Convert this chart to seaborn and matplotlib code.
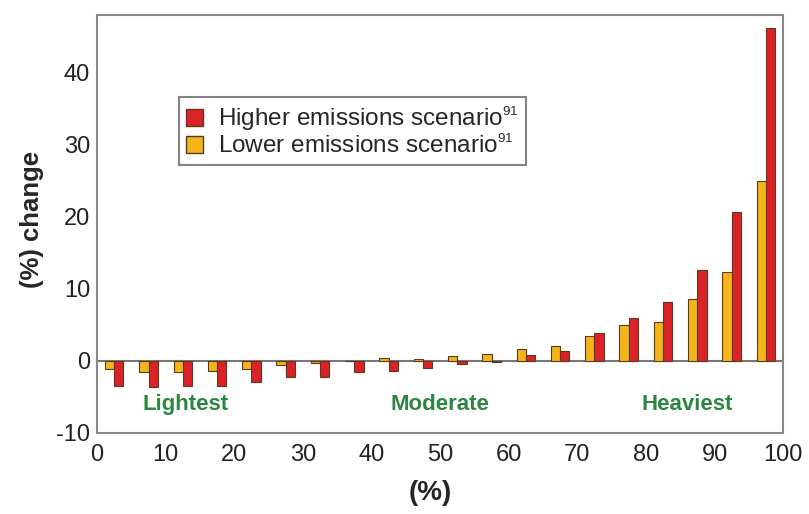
import matplotlib
matplotlib.use("Agg")
import matplotlib.pyplot as plt
import matplotlib._mathtext as _mt
import seaborn as sns
import pandas as pd
from matplotlib.patches import Patch
from matplotlib.ticker import MultipleLocator

percentile = [2.5, 7.5, 12.5, 17.5, 22.5, 27.5, 32.5, 37.5, 42.5, 47.5,
              52.5, 57.5, 62.5, 67.5, 72.5, 77.5, 82.5, 87.5, 92.5, 97.5]
lower = [-1.2, -1.6, -1.5, -1.4, -1.1, -0.6, -0.3, -0.1, 0.4, 0.2,
         0.6, 1.0, 1.65, 2.1, 3.5, 5.0, 5.4, 8.5, 12.3, 24.9]
higher = [-3.5, -3.7, -3.5, -3.5, -2.9, -2.3, -2.3, -1.6, -1.4, -1.0,
          -0.4, -0.2, 0.8, 1.4, 3.9, 6.0, 8.1, 12.6, 20.6, 46.2]
series_names = ["Lower emissions scenario$^{91}$", "Higher emissions scenario$^{91}$"]
colors = {series_names[0]: "#f4b51c", series_names[1]: "#dc2229"}
region_labels = ["Lightest", "Moderate", "Heaviest"]
region_x = [12.9, 50, 86]

df = pd.DataFrame({
    "pct": percentile * 2,
    "val": lower + higher,
    "scenario": [series_names[0]] * len(lower) + [series_names[1]] * len(higher),
})

# smaller superscripts like the reference
try:
    _mt.SHRINK_FACTOR = 0.55
except Exception:
    pass

sns.set_style("white")
plt.rcParams["font.family"] = ["Liberation Sans", "DejaVu Sans"]
plt.rcParams["axes.unicode_minus"] = False
plt.rcParams["mathtext.fontset"] = "custom"
plt.rcParams["mathtext.rm"] = "Liberation Sans"

fig = plt.figure(figsize=(8.09, 5.14), dpi=100)
ax = fig.add_axes([0.12, 0.158, 0.848, 0.813])

sns.barplot(data=df, x="pct", y="val", hue="scenario", hue_order=series_names,
            palette=colors, saturation=1, native_scale=True, width=0.54, dodge=True,
            edgecolor="#5a3a1a", linewidth=0.8, ax=ax, legend=False)

ax.axhline(0, color="#777777", lw=1.5, zorder=0.5)
ax.set_xlim(0, 100)
ax.set_ylim(-10, 48)
ax.set_xticks(range(0, 101, 10))
ax.xaxis.set_minor_locator(MultipleLocator(5))
ax.set_yticks(range(-10, 41, 10))
ax.tick_params(axis="x", which="both", direction="in", length=3, color="#555555",
               labelsize=17, pad=8, labelcolor="#222222")
ax.tick_params(axis="y", direction="out", length=3, color="#555555", labelsize=17,
               pad=2, labelcolor="#222222")
for s in ax.spines.values():
    s.set_color("#888888")
    s.set_linewidth(1.5)

ax.set_xlabel("(%)", fontsize=20, fontweight="bold")
ax.xaxis.set_label_coords(0.485, -0.113)
ax.set_ylabel("(%) change", fontsize=18.5, fontweight="bold")
ax.yaxis.set_label_coords(-0.077, 0.51)

for t, x in zip(region_labels, region_x):
    ax.text(x, -6.1, t, color="#2e8540", fontsize=16, fontweight="bold",
            ha="center", va="center")

handles = [Patch(facecolor=colors[series_names[1]], edgecolor="#5a3a1a"),
           Patch(facecolor=colors[series_names[0]], edgecolor="#5a3a1a")]
leg = ax.legend(handles, [series_names[1], series_names[0]],
                loc="upper left", bbox_to_anchor=(0.119, 0.803), fontsize=17.5,
                frameon=True, fancybox=False, edgecolor="#666666",
                handlelength=0.7, handleheight=0.7, handletextpad=0.6,
                borderpad=0.3, labelspacing=0.08, borderaxespad=0)
leg.get_frame().set_linewidth(1.5)

fig.savefig("out.png", dpi=100)
